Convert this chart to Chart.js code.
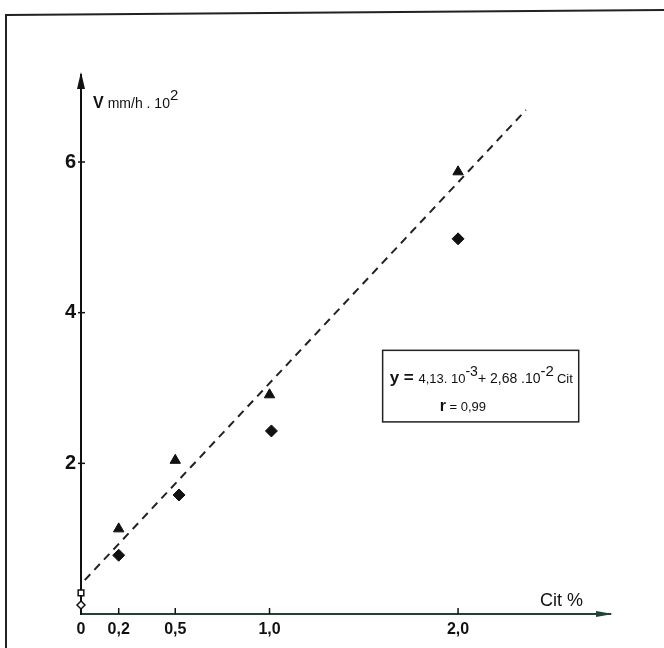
<!DOCTYPE html>
<html>
<head>
<meta charset="utf-8">
<script src="https://cdn.jsdelivr.net/npm/chart.js@4.4.0/dist/chart.umd.min.js"></script>
<style>
  body { margin: 0; background: #fff; }
  canvas { display: block; }
</style>
</head>
<body>
<canvas id="citChart" width="664" height="648"></canvas>
<script>
// values
const citTri = [0.2, 0.5, 1.0, 2.0];
const vTri = [1.13, 2.04, 2.91, 5.87];
const citDia = [0.2, 0.52, 1.01, 2.0];
const vDia = [0.78, 1.58, 2.43, 4.98];
const citSquare = [0];
const vSquare = [0.28];
const citOpenDia = [0];
const vOpenDia = [0.12];
const fitX = [0.02, 2.36];
const fitY = [0.45, 6.69];
const xTicks = [0, 0.2, 0.5, 1.0, 2.0];
const yTicks = [2, 4, 6];

const toPts = (xs, ys) => xs.map((x, i) => ({ x: x, y: ys[i] }));
const axisGreen = '#1d4436';

// draws a run of text pieces with different sizes / raised offsets
function drawRich(ctx, parts, x, y) {
    parts.forEach(p => {
        ctx.font = (p.bold ? 'bold ' : '') + p.size + 'px "Liberation Sans", Arial, sans-serif';
        ctx.fillText(p.t, x, y - (p.dy || 0));
        x += ctx.measureText(p.t).width + (p.gap || 0);
    });
}

const decorations = {
    id: 'decorations',
    afterDraw(chart) {
        const ctx = chart.ctx;
        const xs = chart.scales.x, ys = chart.scales.y;
        const a = chart.chartArea;
        ctx.save();

        // page frame
        ctx.strokeStyle = '#222';
        ctx.lineWidth = 2;
        ctx.beginPath();
        ctx.moveTo(6, 648);
        ctx.lineTo(6, 15);
        ctx.lineTo(664, 10);
        ctx.stroke();

        // arrow heads
        ctx.fillStyle = '#111';
        ctx.beginPath();
        ctx.moveTo(a.left, a.top - 3);
        ctx.lineTo(a.left - 4, a.top + 14);
        ctx.lineTo(a.left + 4, a.top + 14);
        ctx.closePath();
        ctx.fill();
        ctx.fillStyle = axisGreen;
        ctx.beginPath();
        ctx.moveTo(a.right + 3, a.bottom);
        ctx.lineTo(a.right - 14, a.bottom - 3);
        ctx.lineTo(a.right - 14, a.bottom + 3);
        ctx.closePath();
        ctx.fill();

        // tick marks
        ctx.strokeStyle = '#111';
        ctx.lineWidth = 1.5;
        xTicks.slice(1).forEach(v => {
            const px = xs.getPixelForValue(v);
            ctx.beginPath();
            ctx.moveTo(px, a.bottom);
            ctx.lineTo(px, a.bottom - 6);
            ctx.stroke();
        });
        yTicks.forEach(v => {
            const py = ys.getPixelForValue(v);
            ctx.beginPath();
            ctx.moveTo(a.left - 3, py);
            ctx.lineTo(a.left + 4, py);
            ctx.stroke();
        });

        // axis titles
        ctx.fillStyle = '#111';
        ctx.textBaseline = 'alphabetic';
        ctx.textAlign = 'left';
        drawRich(ctx, [
            { t: 'V', size: 16, bold: true, gap: 4 },
            { t: 'mm/h . 10', size: 14 },
            { t: '2', size: 15, dy: 8 }
        ], a.left + 12, 108);
        drawRich(ctx, [
            { t: 'Cit %', size: 18 }
        ], a.right - 70, 606);

        // equation box
        const bx1 = xs.getPixelForValue(1.60), bx2 = xs.getPixelForValue(2.64);
        const by1 = ys.getPixelForValue(3.50), by2 = ys.getPixelForValue(2.55);
        ctx.strokeStyle = '#222';
        ctx.lineWidth = 1.5;
        ctx.strokeRect(bx1, by1, bx2 - bx1, by2 - by1);
        drawRich(ctx, [
            { t: 'y = ', size: 17, bold: true },
            { t: '4,13. 10', size: 13 },
            { t: '-3', size: 14, dy: 7 },
            { t: '+ 2,68 .10', size: 14 },
            { t: '-2', size: 15, dy: 7, gap: 3 },
            { t: 'Cit', size: 13 }
        ], bx1 + 7, by1 + 33);
        drawRich(ctx, [
            { t: 'r', size: 16, bold: true },
            { t: ' = 0,99', size: 13 }
        ], bx1 + 57, by1 + 61);

        ctx.restore();
    }
};

const ctx = document.getElementById('citChart').getContext('2d');

const citChart = new Chart(ctx, {
    type: 'scatter',
    data: {
        datasets: [
            {
                label: 'fit',
                type: 'line',
                data: toPts(fitX, fitY),
                borderColor: '#222',
                borderWidth: 2,
                borderDash: [8, 6],
                pointRadius: 0,
                fill: false,
                clip: false
            },
            {
                label: 'triangles',
                data: toPts(citTri, vTri),
                pointStyle: 'triangle',
                pointRadius: 6,
                backgroundColor: '#111',
                borderColor: '#111',
                clip: false
            },
            {
                label: 'diamonds',
                data: toPts(citDia, vDia),
                pointStyle: 'rectRot',
                pointRadius: 6,
                backgroundColor: '#111',
                borderColor: '#111',
                clip: false
            },
            {
                label: 'square',
                data: toPts(citSquare, vSquare),
                pointStyle: 'rect',
                pointRadius: 4,
                backgroundColor: '#fff',
                borderColor: '#111',
                borderWidth: 1.5,
                clip: false
            },
            {
                label: 'open diamond',
                data: toPts(citOpenDia, vOpenDia),
                pointStyle: 'rectRot',
                pointRadius: 4,
                backgroundColor: '#fff',
                borderColor: '#111',
                borderWidth: 1.5,
                clip: false
            }
        ]
    },
    options: {
        responsive: false,
        animation: false,
        layout: { padding: { left: 0, right: 54, top: 75, bottom: 0 } },
        plugins: {
            legend: { display: false },
            tooltip: { enabled: false }
        },
        scales: {
            x: {
                type: 'linear',
                min: 0,
                max: 2.806,
                afterBuildTicks: s => { s.ticks = xTicks.map(v => ({ value: v })); },
                afterFit: s => { s.height = 34; },
                grid: { display: false, drawTicks: false },
                border: { display: true, color: axisGreen, width: 2 },
                ticks: {
                    padding: 6,
                    color: '#111',
                    font: { family: '"Liberation Sans", Arial, sans-serif', size: 16, weight: 'bold' },
                    callback: v => v === 0 ? '0' : v.toFixed(1).replace('.', ',')
                }
            },
            y: {
                type: 'linear',
                min: 0,
                max: 7.155,
                afterBuildTicks: s => { s.ticks = yTicks.map(v => ({ value: v })); },
                afterFit: s => { s.width = 81; },
                grid: { display: false, drawTicks: false },
                border: { display: true, color: '#111', width: 2 },
                ticks: {
                    padding: 5,
                    color: '#111',
                    font: { family: '"Liberation Sans", Arial, sans-serif', size: 20, weight: 'bold' },
                    callback: v => String(v)
                }
            }
        }
    },
    plugins: [decorations]
});
</script>
</body>
</html>
